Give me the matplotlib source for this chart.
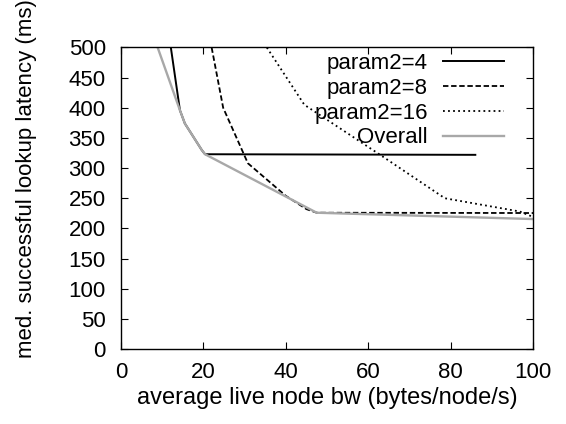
import matplotlib
matplotlib.use("Agg")
import matplotlib.pyplot as plt

plt.rcParams['font.family'] = ['Liberation Sans', 'DejaVu Sans']

# data
bw_p4 = [12.1, 14.3, 15.5, 19.6, 20.4, 86.0]
lat_p4 = [500, 396, 374, 330, 323, 322]

bw_p8 = [22.0, 24.8, 30.8, 40.0, 45.0, 47.5, 100.0]
lat_p8 = [500, 400, 308, 254, 232, 226, 225.5]

bw_p16 = [35.4, 44.5, 62.9, 78.6, 96.8, 100.0]
lat_p16 = [500, 405, 322, 250, 228, 219]

bw_all = [8.9, 14.3, 15.5, 19.6, 20.4, 47.5, 100.0]
lat_all = [500, 396, 374, 330, 323, 226, 215.5]

xticks = [0, 20, 40, 60, 80, 100]
yticks = list(range(0, 501, 50))

fs = 16

fig = plt.figure(figsize=(5.66, 4.24), dpi=100)
ax = fig.add_axes([121 / 566, 1 - 349 / 424, 412 / 566, 301.5 / 424])

ax.plot(bw_p4, lat_p4, color='black', lw=1.4, label='param2=4')
ax.plot(bw_p8, lat_p8, color='black', lw=1.3, dashes=(3, 1.5), label='param2=8')
ax.plot(bw_p16, lat_p16, color='black', lw=1.3, dashes=(1, 1.8), label='param2=16')
ax.plot(bw_all, lat_all, color='#a8a8a8', lw=1.7, label='Overall')

ax.set_xlim(0, 100)
ax.set_ylim(0, 500)
ax.set_xticks(xticks)
ax.set_yticks(yticks)
ax.tick_params(direction='in', length=5, width=0.8, top=True, right=True,
               labelsize=fs, colors='black')
ax.tick_params(axis='y', pad=11)
ax.tick_params(axis='x', pad=9)
for s in ax.spines.values():
    s.set_linewidth(1.0)

ax.set_xlabel('average live node bw (bytes/node/s)', fontsize=17, labelpad=3)
ax.set_ylabel('med. successful lookup latency (ms)', fontsize=fs)
ax.yaxis.set_label_coords(-0.204, 0.564)

ax.legend(loc='upper right', bbox_to_anchor=((510 - 121) / 412, 1.0),
          frameon=False, markerfirst=False, fontsize=fs, handlelength=2.75,
          handletextpad=0.7, labelspacing=0.17, borderpad=0.0, borderaxespad=0.25)

fig.savefig('out.png', dpi=100)
